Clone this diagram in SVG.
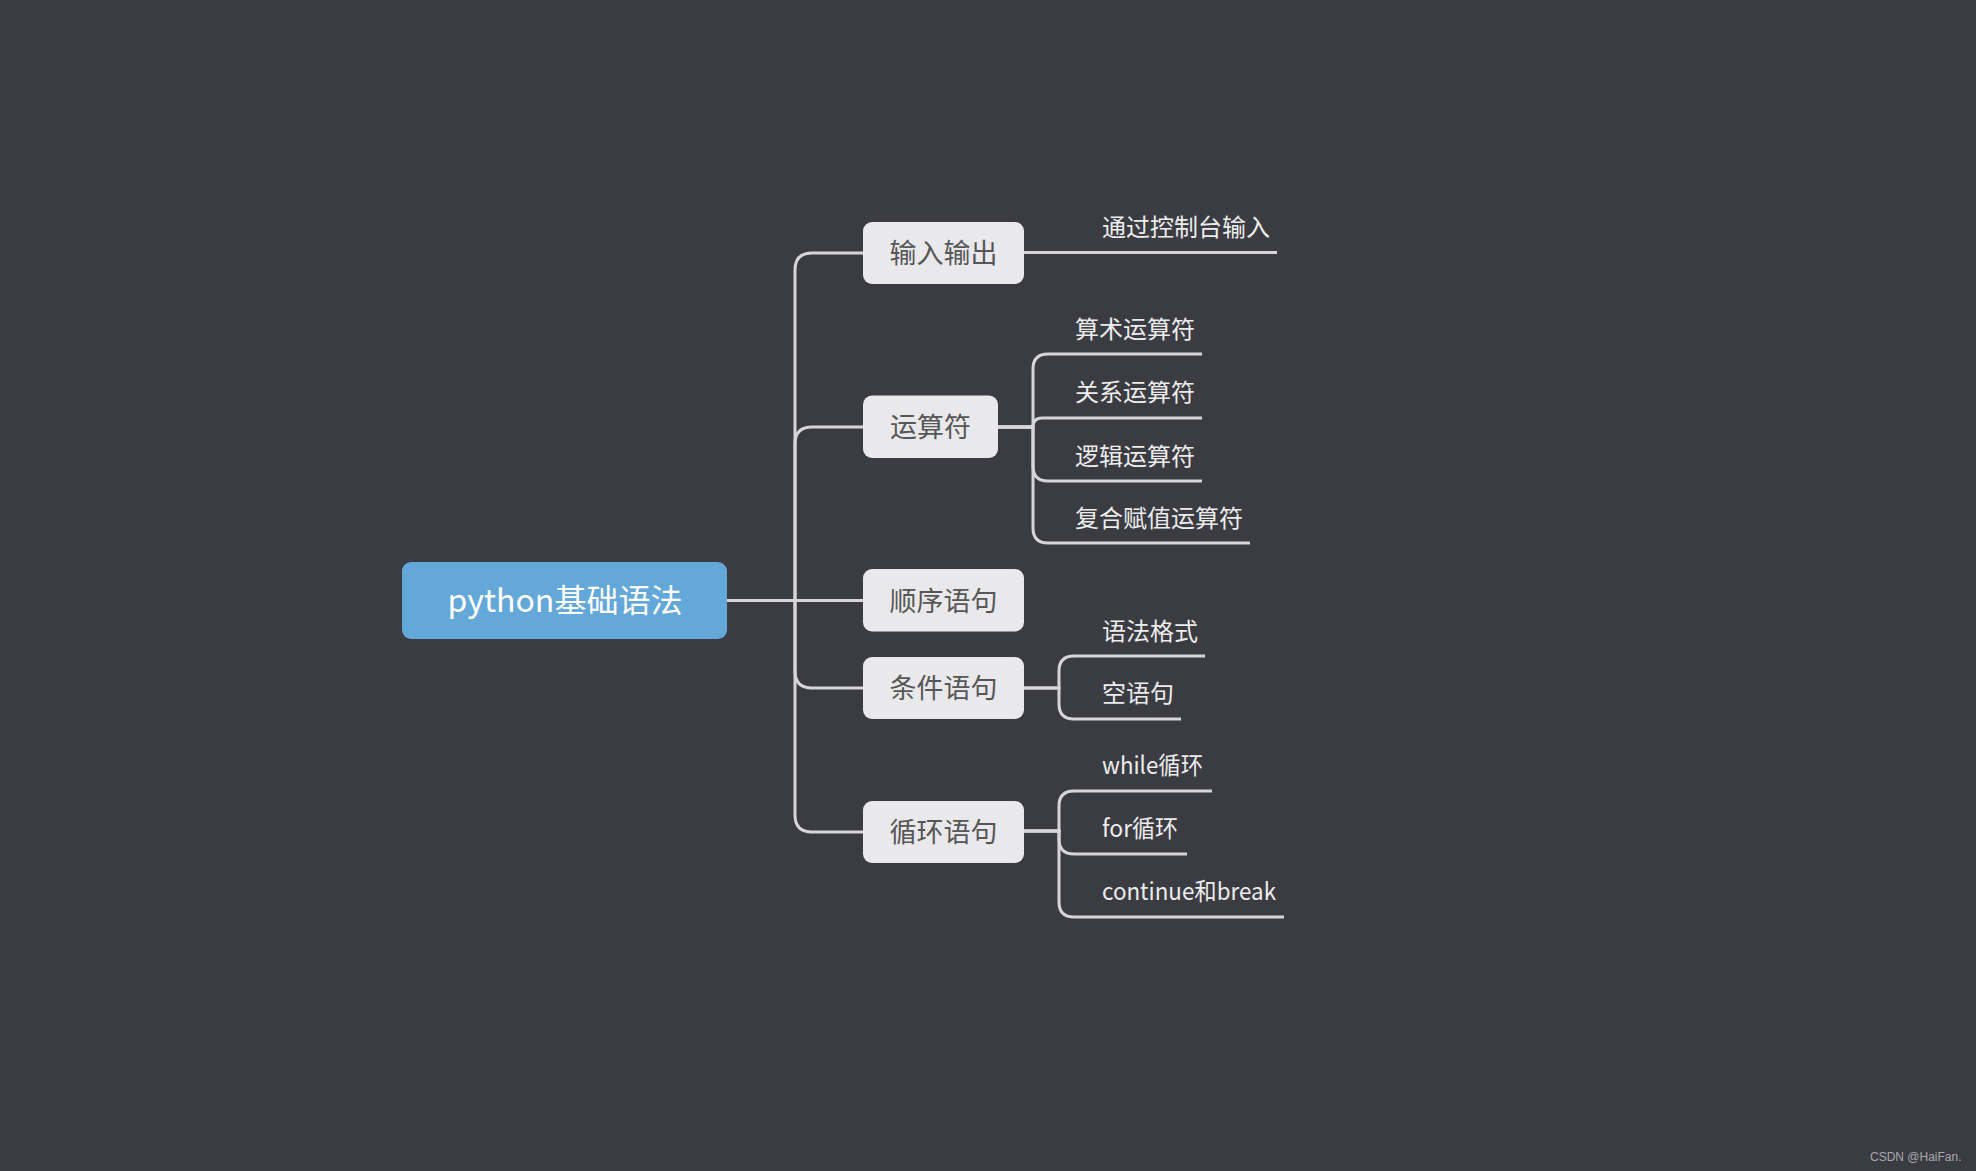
<svg xmlns="http://www.w3.org/2000/svg" width="1976" height="1171" viewBox="0 0 1976 1171">
<style>
.bg{fill:#3b3c42}
.root rect{fill:#63a8d9}
.root text{fill:#ffffff;font-family:"Noto Sans CJK SC","Noto Sans",sans-serif;font-size:32px;text-anchor:middle;dominant-baseline:central}
.topic rect{fill:#e9e9eb}
.topic text{fill:#575757;font-family:"Noto Sans CJK SC","Noto Sans",sans-serif;font-size:27px;text-anchor:middle;dominant-baseline:central}
.leaf text{fill:#ececec;font-family:"Noto Sans CJK SC","Noto Sans",sans-serif;font-size:24px}
.conn path{fill:none;stroke:#d6d6d8;stroke-width:3;stroke-linecap:butt}
.wm{fill:#a8a8ac;font-family:"Liberation Sans",Arial,sans-serif;font-size:12px}
</style>
<rect class="bg" x="0" y="0" width="1976" height="1171"/>

<g id="connectors" class="conn">
  <!-- root to topics -->
  <path d="M727,600.5 H795 V270 Q795,253 812,253 H863"/>
  <path d="M727,600.5 H795 V444 Q795,427 812,427 H863"/>
  <path d="M727,600.5 H863"/>
  <path d="M727,600.5 H795 V671 Q795,688 812,688 H863"/>
  <path d="M727,600.5 H795 V815 Q795,832 812,832 H863"/>
  <!-- 输入输出 -->
  <path d="M1024,252.5 H1277"/>
  <!-- 运算符 -->
  <path d="M998,427 H1033 V369 Q1033,354 1048,354 H1202"/>
  <path d="M998,427 H1033 V427 Q1033,418 1042,418 H1202"/>
  <path d="M998,427 H1033 V466 Q1033,481 1048,481 H1202"/>
  <path d="M998,427 H1033 V528 Q1033,543 1048,543 H1250"/>
  <!-- 条件语句 -->
  <path d="M1024,688 H1059 V671 Q1059,656 1074,656 H1205"/>
  <path d="M1024,688 H1059 V704 Q1059,719 1074,719 H1181"/>
  <!-- 循环语句 -->
  <path d="M1024,831 H1059 V806 Q1059,791 1074,791 H1212"/>
  <path d="M1024,831 H1059 V839 Q1059,854 1074,854 H1187"/>
  <path d="M1024,831 H1059 V902 Q1059,917 1074,917 H1284"/>
</g>

<g id="root" class="root">
  <rect x="402" y="562" width="325" height="77" rx="9"/>
  <text x="565" y="597.5">python基础语法</text>
</g>

<g id="n-io" class="topic">
  <rect x="863" y="222" width="161" height="62" rx="9"/>
  <text x="943.5" y="251">输入输出</text>
</g>
<g id="n-op" class="topic">
  <rect x="863" y="395.5" width="135" height="62.5" rx="9"/>
  <text x="930.5" y="425.5">运算符</text>
</g>
<g id="n-seq" class="topic">
  <rect x="863" y="569" width="161" height="62.5" rx="9"/>
  <text x="943.5" y="599">顺序语句</text>
</g>
<g id="n-cond" class="topic">
  <rect x="863" y="657" width="161" height="62" rx="9"/>
  <text x="943.5" y="686.5">条件语句</text>
</g>
<g id="n-loop" class="topic">
  <rect x="863" y="801" width="161" height="62" rx="9"/>
  <text x="943.5" y="830.5">循环语句</text>
</g>

<g id="l-console" class="leaf"><text x="1102" y="236">通过控制台输入</text></g>
<g id="l-arith" class="leaf"><text x="1075" y="338">算术运算符</text></g>
<g id="l-rel" class="leaf"><text x="1075" y="401">关系运算符</text></g>
<g id="l-logic" class="leaf"><text x="1075" y="465">逻辑运算符</text></g>
<g id="l-assign" class="leaf"><text x="1075" y="527">复合赋值运算符</text></g>
<g id="l-syntax" class="leaf"><text x="1102" y="640">语法格式</text></g>
<g id="l-empty" class="leaf"><text x="1102" y="702">空语句</text></g>
<g id="l-while" class="leaf"><text x="1102" y="774" textLength="101" lengthAdjust="spacingAndGlyphs">while循环</text></g>
<g id="l-for" class="leaf"><text x="1102" y="837" textLength="76" lengthAdjust="spacingAndGlyphs">for循环</text></g>
<g id="l-cb" class="leaf"><text x="1102" y="900" textLength="174" lengthAdjust="spacingAndGlyphs">continue和break</text></g>

<text class="wm" x="1870" y="1161">CSDN @HaiFan.</text>
</svg>
